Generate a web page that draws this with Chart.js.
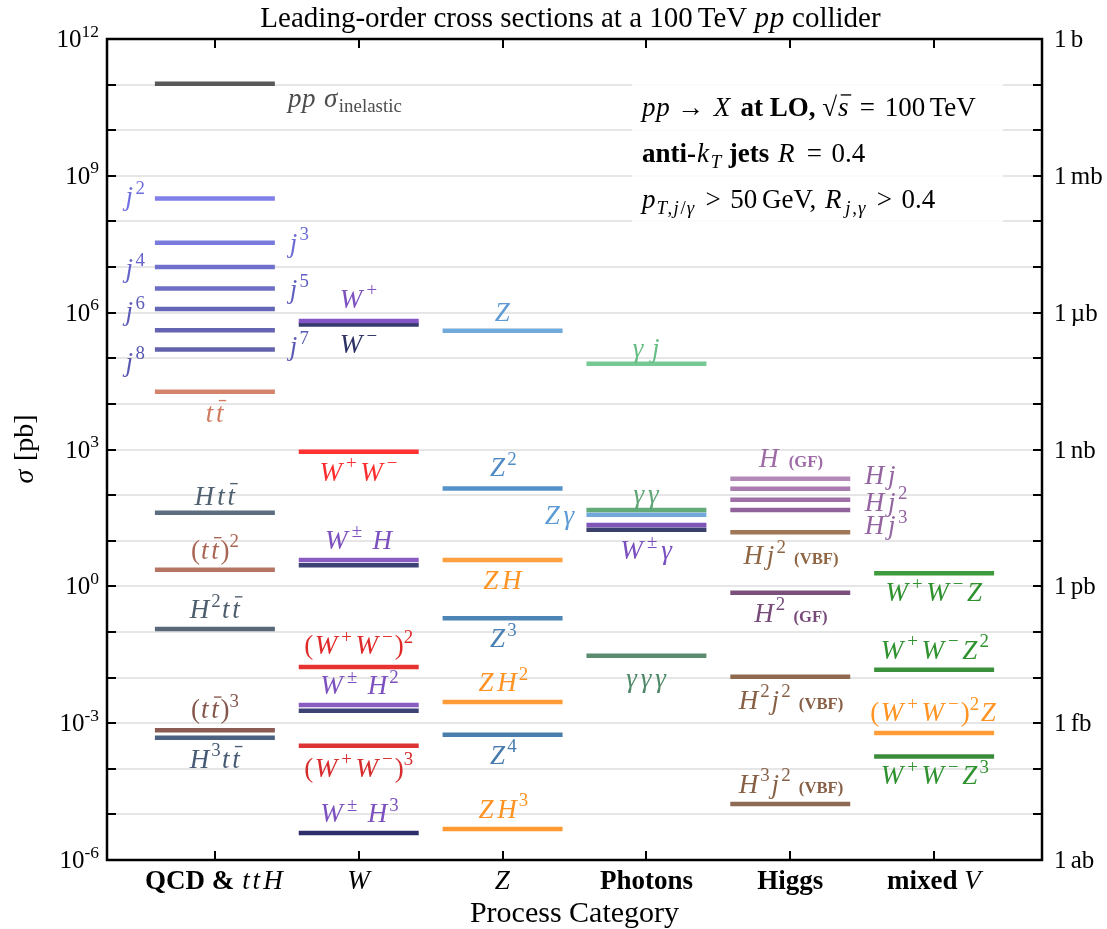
<!DOCTYPE html>
<html><head><meta charset="utf-8">
<script src="https://cdn.jsdelivr.net/npm/chart.js@4.4.1/dist/chart.umd.min.js"></script>
<style>html,body{margin:0;padding:0;background:#fff;}#wrap{width:1107px;height:929px;}</style>
</head><body><div id="wrap"><canvas id="c" width="1107" height="929"></canvas></div>
<script>
// ---------------- DATA ----------------
const categories = ['\\bf{QCD &} $ttH$', '$W$', '$Z$', '\\bf{Photons}', '\\bf{Higgs}', '\\bf{mixed} $V$'];

const gridDecades = [1e-6,1e-5,1e-4,1e-3,1e-2,1e-1,1,1e1,1e2,1e3,1e4,1e5,1e6,1e7,1e8,1e9,1e10,1e11,1e12];
const labelTickValues = [1e-6, 1e-3, 1, 1e3, 1e6, 1e9, 1e12];
const leftTickLabels = ['10^{-6}', '10^{-3}', '10^{0}', '10^{3}', '10^{6}', '10^{9}', '10^{12}'];
const rightTickLabels = ['1\\,ab', '1\\,fb', '1\\,pb', '1\\,nb', '1\\,µb', '1\\,mb', '1\\,b'];

const qcdLabels = ['$pp$ $\\sigma_{\\rm{inelastic}}$', '$j^2$', '$j^3$', '$j^4$', '$j^5$', '$j^6$', '$j^7$', '$j^8$',
  '$t\\bar{t}$', '$Ht\\bar{t}$', '$(t\\bar{t})^2$', '$H^2t\\bar{t}$', '$(t\\bar{t})^3$', '$H^3t\\bar{t}$'];
const qcdValues = [1.05e11, 3.2e8, 3.4e7, 1.0e7, 3.4e6, 1.2e6, 4.1e5, 1.55e5, 1.85e4, 41, 2.3, 0.116, 7.0e-4, 4.8e-4];

const wLabels = ['$W^+$', '$W^-$', '$W^+W^-$', '$W^\\pm H$', '', '$(W^+W^-)^2$', '$W^\\pm H^2$', '', '$(W^+W^-)^3$', '$W^\\pm H^3$'];
const wValues = [6.6e5, 5.5e5, 890, 3.8, 2.9, 0.017, 2.5e-3, 1.86e-3, 3.2e-4, 3.9e-6];

const zLabels = ['$Z$', '$Z^2$', '$ZH$', '$Z^3$', '$ZH^2$', '$Z^4$', '$ZH^3$'];
const zValues = [4.0e5, 140, 3.8, 0.2, 2.9e-3, 5.6e-4, 4.8e-6];

const photonLabels = ['$\\gamma\\,j$', '$\\gamma\\gamma$', '$Z\\gamma$', '$W^\\pm\\gamma$', '', '$\\gamma\\gamma\\gamma$'];
const photonValues = [7.6e4, 47, 37, 22, 17.5, 0.030];

const higgsLabels = ['$H$\\;\\sc{(GF)}', '$Hj$', '$Hj^2$', '$Hj^3$', '$Hj^2$\\;\\sc{(VBF)}', '$H^2$\\;\\sc{(GF)}', '$H^2j^2$\\;\\sc{(VBF)}', '$H^3j^2$\\;\\sc{(VBF)}'];
const higgsValues = [229, 138, 79, 47, 15.3, 0.72, 0.0104, 1.7e-5];

const mixedLabels = ['$W^+W^-Z$', '$W^+W^-Z^2$', '$(W^+W^-)^2Z$', '$W^+W^-Z^3$'];
const mixedValues = [1.93, 0.0148, 6.1e-4, 1.86e-4];

const titleText = 'Leading-order cross sections at a 100\\,TeV $pp$ collider';
const xTitle = 'Process Category';
const yTitle = '$\\sigma$ [pb]';
const infoLines = ['$pp \\to X$ \\bf{at LO,} $\\sqrt{s} = 100$\\,TeV',
                   '\\bf{anti-}$k_T$ \\bf{jets} $R = 0.4$',
                   '$p_{T,j/\\gamma} > 50$\\,GeV, $R_{j,\\gamma} > 0.4$'];

// ---------------- STYLES (colour, label colour, label side, label offset) ----------------
const qcdStyles = [
 ['#595959','#4d4d4d','right',14], ['#8080e8','#6e6ee0','left',-2], ['#7a7adc','#6b6bd6','right',0],
 ['#7070cc','#6363c9','left',1], ['#6d6dc6','#6060c0','right',1], ['#6666b6','#5c5cb8','left',2],
 ['#6464b2','#5a5ab5','right',16], ['#6262ac','#5858b0','left',12], ['#d4846c','#d07a5f','below',21],
 ['#5d6e7e','#4f6070','above',-17], ['#b47565','#a86554','above',-20], ['#586878','#4d5d6d','above',-20],
 ['#8c5c54','#85554c','above',-21], ['#4d6280','#465a75','below',21]];
const wStyles = [
 ['#8455c4','#7f52c0','above',-22], ['#353a6c','#2c3263','below',20], ['#ff3333','#ff2e2e','below',20],
 ['#8a5cc2','#7d50bf','above',-20], ['#3c4273','','',0], ['#e83232','#e02a2a','above',-22],
 ['#8a5cc2','#7d50bf','above',-20], ['#3c4273','','',0], ['#dc3434','#d62c2c','below',22],
 ['#2e2e6a','#7d50bf','above',-20]];
const zStyles = [
 ['#72aadb','#5f9cd6','above',-19], ['#5592c9','#4f8cc6','above',-21], ['#ffa040','#ff9424','below',20],
 ['#4c84b6','#4a80b5','below',20], ['#ff9c35','#ff9424','above',-20], ['#4a7cac','#477bad','below',20],
 ['#ff9a33','#ff9424','above',-20]];
const photonStyles = [
 ['#76c993','#66bd84','above',-16], ['#62aa78','#5ca575','above',-16], ['#72a9da','#5c9bd5','left',0],
 ['#8055b8','#7a4fbf','below',25], ['#3a406c','','',0], ['#5c8c70','#4f8a68','below',22]];
const higgsStyles = [
 ['#b389b8','#9d6aa6','above',-21], ['#a97bae','#9464a0','right',-14], ['#9f70a5','#9464a0','right',2],
 ['#92639b','#9464a0','right',15], ['#a07858','#8f6644','below',23], ['#7b517c','#774a7a','below',20],
 ['#8f6a50','#875f45','below',23], ['#8c6a54','#875f45','above',-20]];
const mixedStyles = [
 ['#3d9b3d','#2f922f','below',19], ['#3b913b','#2f922f','above',-20], ['#ff9c35','#ff9424','above',-21],
 ['#3a8b3a','#2f922f','below',19]];

const groups = [
  {labels: qcdLabels, values: qcdValues, styles: qcdStyles},
  {labels: wLabels, values: wValues, styles: wStyles},
  {labels: zLabels, values: zValues, styles: zStyles},
  {labels: photonLabels, values: photonValues, styles: photonStyles},
  {labels: higgsLabels, values: higgsValues, styles: higgsStyles},
  {labels: mixedLabels, values: mixedValues, styles: mixedStyles}];

const HALF = 0.417;
const FAMILY = '"Liberation Serif", "DejaVu Serif", serif';
const LABEL_FS = 27, TITLE_FS = 29, AXIS_FS = 30, YAXIS_FS = 28, TICK_FS = 25, CAT_FS = 27, INFO_FS = 27;

// ---------------- RICH TEXT ----------------
const SYM = {sigma:'σ', gamma:'γ', pm:'±', to:'→'};
const OPS = {'+':0.778, '\u2212':0.778, '±':0.778, '=':0.778, '>':0.778, '→':1.0};
const MATHW = {W:0.944, H:0.831, Z:0.681, X:0.828, R:0.759, V:0.583, T:0.584, p:0.503, j:0.412, t:0.361,
               k:0.521, s:0.469, '\u03b3':0.518, '\u03c3':0.571};
function parseRich(src) {
  let i = 0; const runs = [];
  function emit(text, st, upright) {
    const isLetter = /[A-Za-z\u03b1-\u03c9]/.test(text);
    runs.push({text, math: !!st.math && !st.rm, italic: !!(st.math && !st.rm && isLetter && !upright), bold: !!st.bold,
      scale: st.scale, shift: st.shift, bar: !!st.bar, small: !!st.small, gap: 0});
  }
  function gap(em, st) { runs.push({text:'', gap: em*st.scale, scale: st.scale, shift: st.shift}); }
  function parseArg(st) { if (src[i] === '{') { i++; parseGroup(st); } else parseOne(st); }
  function parseGroup(st) { while (i < src.length) { if (src[i] === '}') { i++; return; } st = parseOne(st); } }
  function parseOne(st) {
    const c = src[i];
    if (c === '$') { i++; return Object.assign({}, st, {math: !st.math}); }
    if (c === '{') { i++; parseGroup(st); return st; }
    if (c === '^' || c === '_') {
      i++; const sup = c === '^';
      parseArg(Object.assign({}, st, {scale: st.scale*0.7, shift: st.shift + (sup ? -0.42 : 0.22)*st.scale, bar:false}));
      return st;
    }
    if (c === '\\') {
      i++;
      const m = /^[A-Za-z]+/.exec(src.slice(i));
      if (!m) { const ch = src[i]; i++;
        if (ch === ',') gap(0.17, st); else if (ch === ';') gap(0.3, st); else if (ch === ' ') gap(0.25, st); else emit(ch, st);
        return st; }
      const name = m[0]; i += name.length;
      if (SYM[name]) { emit(SYM[name], st, name === 'pm' || name === 'to'); return st; }
      if (name === 'bar') { parseArg(Object.assign({}, st, {bar:true})); return st; }
      if (name === 'rm') { parseArg(Object.assign({}, st, {rm:true})); return st; }
      if (name === 'bf') { parseArg(Object.assign({}, st, {rm:true, bold:true})); return st; }
      if (name === 'sc') { parseArg(Object.assign({}, st, {rm:true, bold:true, small:true})); return st; }
      if (name === 'sqrt') { emit('√', st, true); parseArg(Object.assign({}, st, {bar:true})); return st; }
      return st;
    }
    i++;
    if (st.math && c === '-') { emit('\u2212', st, true); return st; }
    emit(c, st);
    return st;
  }
  parseGroup({math:false, scale:1, shift:0});
  const merged = [];
  runs.forEach(r => {
    const p = merged[merged.length-1];
    if (p && !r.gap && !p.gap && !r.bar && !p.bar && !r.math && !p.math && p.italic === r.italic && p.bold === r.bold &&
        p.scale === r.scale && p.shift === r.shift && p.small === r.small) p.text += r.text;
    else merged.push(Object.assign({}, r));
  });
  return merged;
}
function fontFor(r, size, weight) {
  const s = size * r.scale * (r.small ? 0.62 : 1);
  return (r.italic ? 'italic ' : '') + ((r.bold || weight === 'bold') ? 'bold ' : '') + s.toFixed(1) + 'px ' + FAMILY;
}
function metrics(ctx, r, size, weight) {
  if (r.gap) return {adv: r.gap*size, off: 0, w: 0};
  ctx.font = fontFor(r, size, weight);
  const w = ctx.measureText(r.text).width;
  const fs = size * r.scale * (r.small ? 0.62 : 1);
  if (r.math) {
    if (OPS[r.text]) { const adv = Math.max(w, OPS[r.text]*fs); return {adv, off: (adv - w)/2, w}; }
    if (r.italic) {
      const adv = MATHW[r.text] ? Math.max(w, MATHW[r.text]*fs) + 0.02*fs : w*1.1;
      return {adv, off: Math.max(0, (adv - w)/2 - 0.01*fs), w};
    }
  }
  return {adv: w, off: 0, w};
}
function drawRich(ctx, src, x, y, o) {
  const runs = parseRich(src); const size = o.size;
  const ms = runs.map(r => metrics(ctx, r, size, o.weight));
  const total = ms.reduce((a, m) => a + m.adv, 0);
  let cx = o.align === 'center' ? x - total/2 : (o.align === 'right' ? x - total : x);
  ctx.save();
  ctx.fillStyle = o.color || '#000'; ctx.strokeStyle = o.color || '#000';
  ctx.textBaseline = 'alphabetic'; ctx.textAlign = 'left';
  runs.forEach((r, k) => {
    const by = y + r.shift*size, m = ms[k];
    if (!r.gap) {
      ctx.font = fontFor(r, size, o.weight);
      ctx.fillText(r.text, cx + m.off, by);
      if (r.bar) {
        const fs = size*r.scale, sk = r.italic ? fs*0.1 : 0;
        ctx.lineWidth = Math.max(1, fs*0.05);
        ctx.beginPath(); ctx.moveTo(cx + m.off + sk, by - fs*0.78); ctx.lineTo(cx + m.off + m.w + sk, by - fs*0.78); ctx.stroke();
      }
    }
    cx += m.adv;
  });
  ctx.restore();
  return total;
}

// ---------------- DATASETS ----------------
const datasets = [];
groups.forEach((g, ci) => g.values.forEach((v, k) => {
  datasets.push({type:'line', data:[{x: ci+1-HALF, y: v}, {x: ci+1+HALF, y: v}],
    borderColor: g.styles[k][0], borderWidth: 4.5, pointRadius: 0, borderCapStyle: 'butt', fill: false});
}));

// ---------------- PLUGIN ----------------
const decor = {
  id: 'decor',
  afterDatasetsDraw(chart) {
    const ctx = chart.ctx, a = chart.chartArea;
    ctx.save();
    ctx.fillStyle = 'rgba(255,255,255,0.82)';
    ctx.fillRect(a.left + 525, 80, 371, 148);
    ctx.restore();
  },
  afterDraw(chart) {
    const ctx = chart.ctx, a = chart.chartArea, xs = chart.scales.x, ys = chart.scales.y;
    groups.forEach((g, ci) => g.values.forEach((v, k) => {
      const lab = g.labels[k], st = g.styles[k];
      if (!lab) return;
      const ly = ys.getPixelForValue(v) + st[3] + 0.33*LABEL_FS;
      const xc = xs.getPixelForValue(ci+1);
      const o = {color: st[1], size: LABEL_FS};
      if (st[2] === 'above' || st[2] === 'below') drawRich(ctx, lab, xc, ly, Object.assign(o, {align:'center'}));
      else if (st[2] === 'left') drawRich(ctx, lab, xs.getPixelForValue(ci+1-HALF) - 10, ly, Object.assign(o, {align:'right'}));
      else drawRich(ctx, lab, xs.getPixelForValue(ci+1+HALF) + 13, ly, Object.assign(o, {align:'left'}));
    }));
    infoLines.forEach((t, k) => drawRich(ctx, t, a.left + 535, 116 + k*45.8, {align:'left', color:'#000', size: INFO_FS}));
    ctx.save();
    ctx.strokeStyle = '#000'; ctx.lineWidth = 2;
    ctx.beginPath();
    gridDecades.forEach(v => { const y = Math.round(ys.getPixelForValue(v)); ctx.moveTo(a.left, y); ctx.lineTo(a.left+9, y); ctx.moveTo(a.right-9, y); ctx.lineTo(a.right, y); });
    categories.forEach((c, k) => { const x = Math.round(xs.getPixelForValue(k+1)); ctx.moveTo(x, a.top); ctx.lineTo(x, a.top+9); ctx.moveTo(x, a.bottom-9); ctx.lineTo(x, a.bottom); });
    ctx.stroke();
    ctx.lineWidth = 2.5;
    ctx.strokeRect(a.left, a.top, a.right - a.left, a.bottom - a.top);
    ctx.restore();
    labelTickValues.forEach((v, k) => {
      const y = ys.getPixelForValue(v) + 8;
      drawRich(ctx, leftTickLabels[k], a.left - 8, y, {align:'right', color:'#000', size: TICK_FS});
      drawRich(ctx, rightTickLabels[k], a.right + 12, y, {align:'left', color:'#000', size: TICK_FS});
    });
    categories.forEach((c, k) => drawRich(ctx, c, xs.getPixelForValue(k+1), a.bottom + 29, {align:'center', color:'#000', size: CAT_FS}));
    drawRich(ctx, titleText, (a.left + a.right)/2 - 4, 27, {align:'center', color:'#000', size: TITLE_FS});
    drawRich(ctx, xTitle, (a.left + a.right)/2, a.bottom + 62, {align:'center', color:'#000', size: AXIS_FS});
    ctx.save();
    ctx.translate(33, (a.top + a.bottom)/2); ctx.rotate(-Math.PI/2);
    drawRich(ctx, yTitle, 0, 0, {align:'center', color:'#000', size: YAXIS_FS});
    ctx.restore();
  }
};

new Chart(document.getElementById('c'), {
  type: 'line',
  data: {datasets},
  options: {
    responsive: false, animation: false, devicePixelRatio: 1,
    layout: {padding: {left: 107, right: 65, top: 39, bottom: 69}},
    plugins: {legend: {display: false}, tooltip: {enabled: false}, title: {display: false}},
    elements: {line: {tension: 0}},
    scales: {
      x: {type: 'linear', min: 0.25, max: 6.75, display: false},
      y: {type: 'logarithmic', min: 1e-6, max: 1e12, display: true,
          afterBuildTicks: s => { s.ticks = gridDecades.map(v => ({value: v})); },
          ticks: {display: false},
          border: {display: false},
          grid: {color: '#e6e6e6', lineWidth: 2, drawTicks: false}}
    }
  },
  plugins: [decor]
});
</script></body></html>
